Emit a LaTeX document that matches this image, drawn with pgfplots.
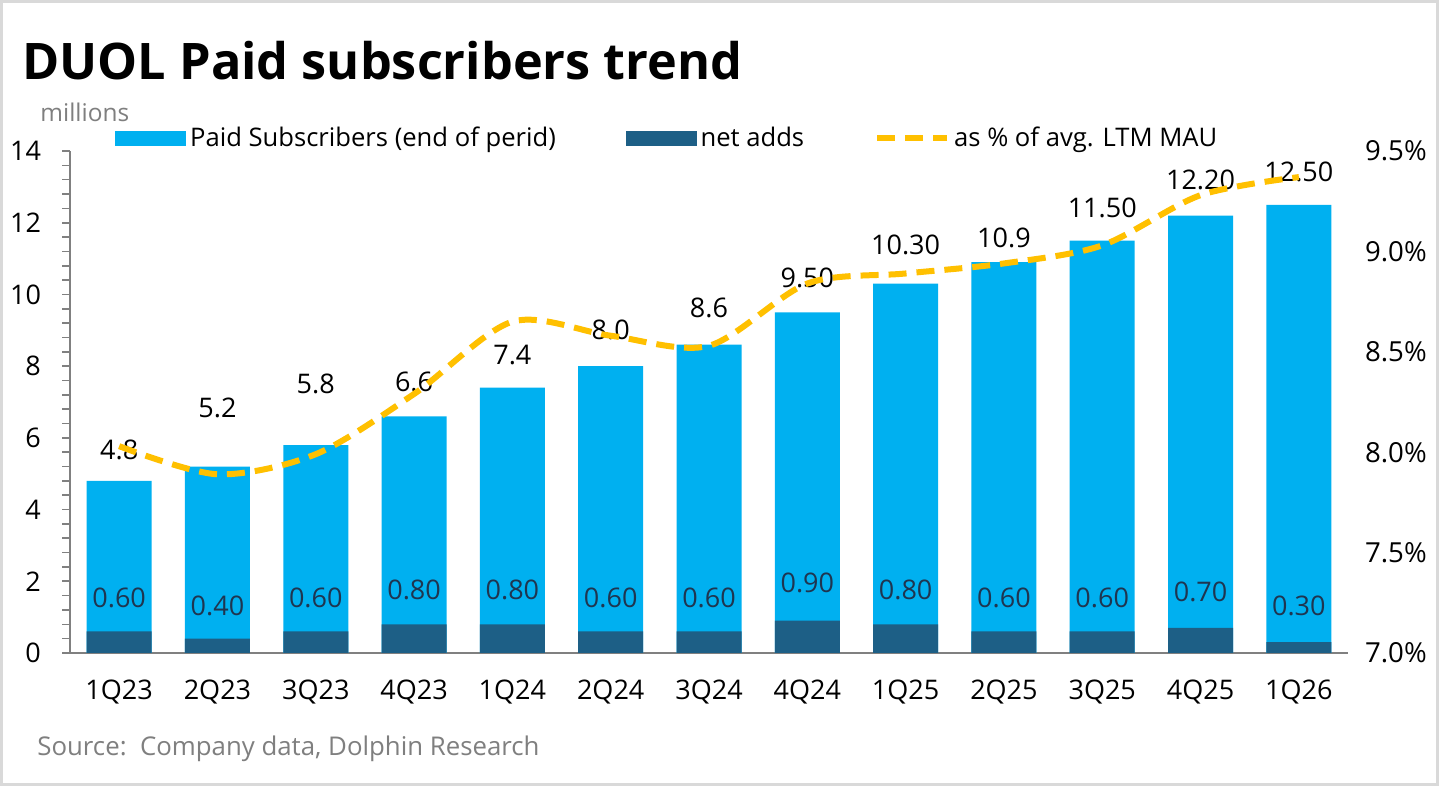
\documentclass[border=0pt]{standalone}
\usepackage{pgfplots}
\pgfplotsset{compat=1.18}
\usepackage{pgfplotstable}
\usepackage{fontspec}
\setmainfont{Open Sans}
\definecolor{lblue}{HTML}{00B0F0}
\definecolor{dblue}{HTML}{1D5F86}
\definecolor{lyellow}{HTML}{FFC000}
\definecolor{axisgray}{HTML}{808080}
\definecolor{txtgray}{HTML}{7F7F7F}
\definecolor{netlab}{HTML}{1F3550}

\pgfplotstableread{
x total net lab totlab netpos netlab
0  4.8  0.6 5.66  4.8   1.53 0.60
1  5.2  0.4 6.83  5.2   1.31 0.40
2  5.8  0.6 7.50  5.8   1.53 0.60
3  6.6  0.8 7.56  6.6   1.76 0.80
4  7.4  0.8 8.31  7.4   1.76 0.80
5  8.0  0.6 9.00  8.0   1.53 0.60
6  8.6  0.6 9.62  8.6   1.53 0.60
7  9.5  0.9 10.46 9.50  1.95 0.90
8  10.3 0.8 11.38 10.30 1.76 0.80
9  10.9 0.6 11.57 10.9  1.53 0.60
10 11.5 0.6 12.41 11.50 1.53 0.60
11 12.2 0.7 13.19 12.20 1.70 0.70
12 12.5 0.3 13.41 12.50 1.31 0.30
}\subs

\pgfplotstableread{
x pct
0  8.03
1  7.89
2  7.99
3  8.29
4  8.65
5  8.58
6  8.53
7  8.84
8  8.89
9  8.94
10 9.03
11 9.28
12 9.37
}\pct

\begin{document}
\begin{tikzpicture}[x=0.5pt,y=0.5pt]
\useasboundingbox (0,0) rectangle (1439,786);
\fill[white] (0,0) rectangle (1439,786);
\draw[color={rgb,255:red,217;green,217;blue,217}, line width=1.5pt] (1.5,1.5) rectangle (1437.5,784.5);

\node[anchor=base west, inner sep=0, font=\fontsize{25.2}{28}\selectfont\bfseries] at (22,706) {DUOL Paid subscribers trend};
\node[anchor=west, inner sep=0, text=txtgray, font=\fontsize{12.2}{14}\selectfont] at (40,674) {millions};
\node[anchor=base west, inner sep=0, text=txtgray, font=\fontsize{12.9}{14}\selectfont] at (37,30) {Source:\ \ Company data, Dolphin Research};

\begin{axis}[
  at={(35pt,66.5pt)}, anchor=south west, scale only axis,
  width=639pt, height=251pt,
  xmin=-0.5, xmax=12.5, ymin=0, ymax=14,
  axis x line*=bottom, axis y line*=left,
  axis line style={draw=axisgray, line width=1pt},
  xtick={0,...,12},
  xticklabels={1Q23,2Q23,3Q23,4Q23,1Q24,2Q24,3Q24,4Q24,1Q25,2Q25,3Q25,4Q25,1Q26},
  x tick style={draw=none},
  ytick={0,2,...,14}, minor y tick num=4,
  tick align=outside,
  y tick style={draw=axisgray, line width=0.8pt},
  major tick length=4pt, minor tick length=4pt,
  /pgf/number format/assume math mode=true,
  tick label style={font=\fontsize{13.5}{15}\selectfont},
  xticklabel style={yshift=-6pt},
  yticklabel style={xshift=-7pt},
  clip=false,
]
\addplot[ybar, bar width=32.5pt, bar shift=0pt, fill=lblue, draw=none, forget plot] table[x=x, y=total] {\subs};
\addplot[ybar, bar width=32.5pt, bar shift=0pt, fill=dblue, draw=none, forget plot] table[x=x, y=net] {\subs};
\addplot[draw=none, mark=none, forget plot, nodes near coords, point meta=explicit symbolic,
  nodes near coords style={anchor=center, inner sep=0, font=\fontsize{13.5}{15}\selectfont, text=black}]
  table[x=x, y=lab, meta=totlab] {\subs};
\addplot[draw=none, mark=none, forget plot, nodes near coords, point meta=explicit symbolic,
  nodes near coords style={anchor=center, inner sep=0, font=\fontsize{13.5}{15}\selectfont, text=netlab}]
  table[x=x, y=netpos, meta=netlab] {\subs};
\end{axis}

\begin{axis}[
  at={(35pt,66.5pt)}, anchor=south west, scale only axis,
  width=639pt, height=251pt,
  xmin=-0.5, xmax=12.5, ymin=7, ymax=9.5,
  axis x line=none, axis y line*=right,
  y axis line style={draw=none},
  ytick={7,7.5,...,9.5},
  major tick length=0pt,
  /pgf/number format/assume math mode=true,
  yticklabel={\pgfmathprintnumber[fixed,fixed zerofill,precision=1,assume math mode=true]{\tick}\%},
  tick label style={font=\fontsize{13.8}{15}\selectfont},
  yticklabel style={xshift=5pt},
  clip=false,
  legend style={at={(rel axis cs:0.0352,1.026)}, anchor=west, draw=none, fill=none, inner sep=0pt,
    font=\fontsize{12.8}{14}\selectfont, legend columns=3,
    /tikz/every even column/.append style={column sep=33pt}},
  legend cell align=left,
]
\addlegendimage{legend image code/.code={\fill[lblue] (0pt,-3.5pt) rectangle (35pt,3.5pt);}}
\addlegendentry{Paid Subscribers (end of perid)}
\addlegendimage{legend image code/.code={\fill[dblue] (0pt,-3.5pt) rectangle (35pt,3.5pt);}}
\addlegendentry{net adds}
\addplot[smooth, lyellow, line width=3pt, dash pattern=on 9pt off 5pt, mark=none,
  legend image code/.code={\draw[lyellow, line width=3pt, dash pattern=on 9pt off 5pt] (0pt,0pt) -- (35pt,0pt);}]
  table[x=x, y=pct] {\pct};
\addlegendentry{as \% of avg. LTM MAU}
\end{axis}
\end{tikzpicture}
\end{document}
